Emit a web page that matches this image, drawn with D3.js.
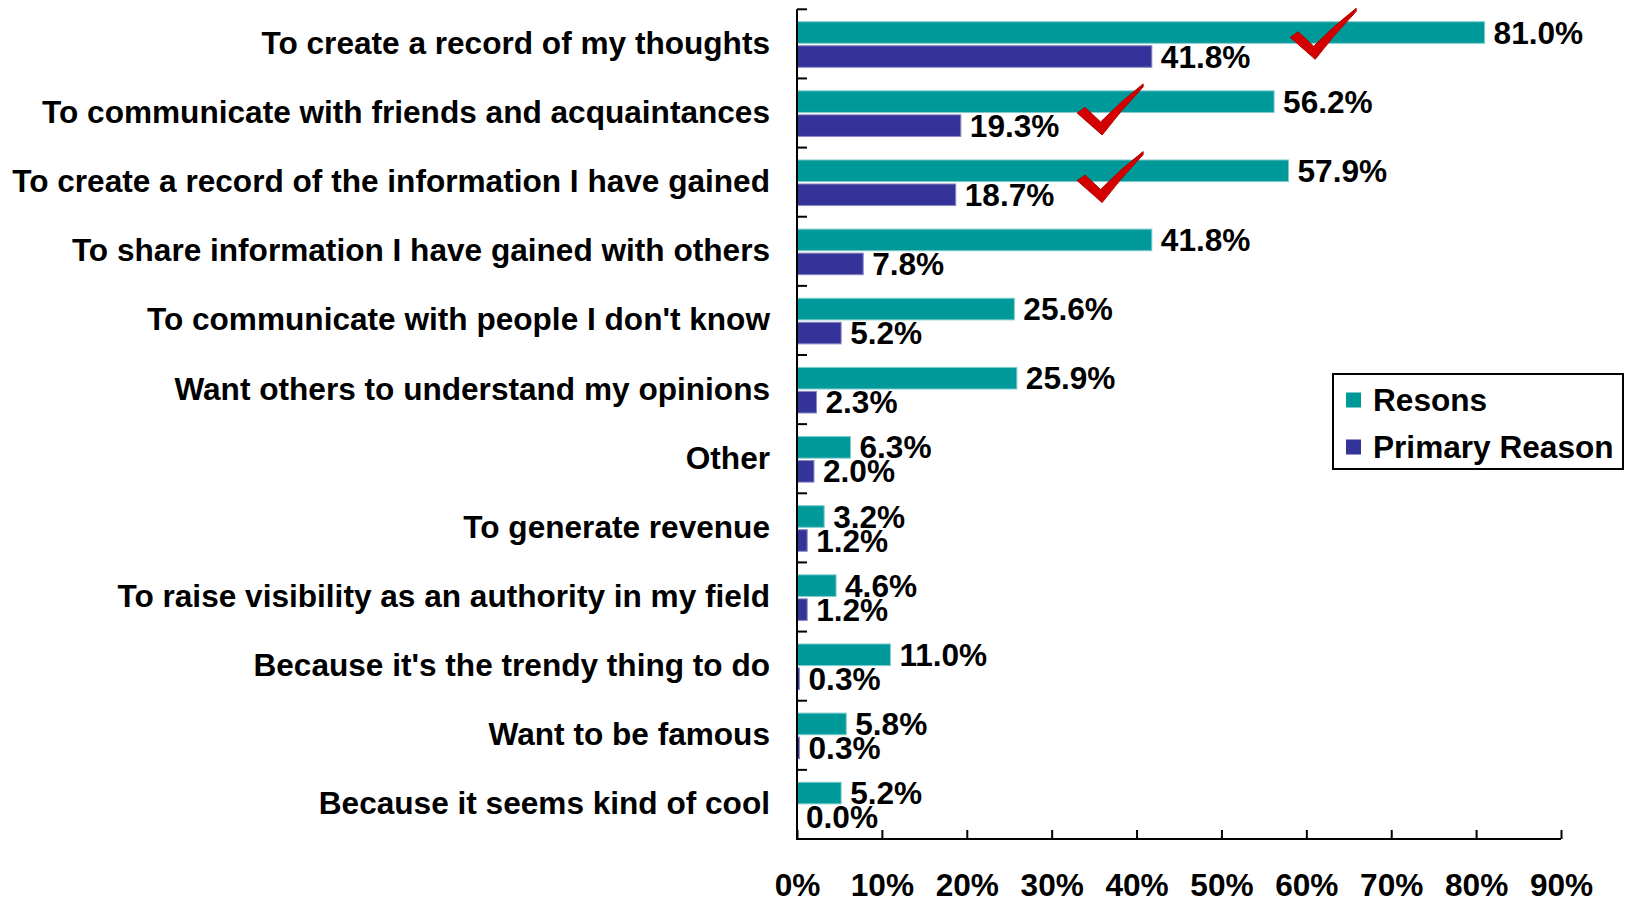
<!DOCTYPE html>
<html>
<head>
<meta charset="utf-8">
<script src="https://cdn.jsdelivr.net/npm/d3@7"></script>
<style>
  html, body { margin: 0; padding: 0; background: #ffffff; }
  svg { display: block; }
  text { font-family: "Liberation Sans", Arial, sans-serif; font-weight: bold; fill: #000; }
</style>
</head>
<body>
<svg id="chart" width="1625" height="901"></svg>
<script>
// Reasons for blogging: share of respondents naming each reason, and naming it as the primary one
const categories = [
  "To create a record of my thoughts",
  "To communicate with friends and acquaintances",
  "To create a record of the information I have gained",
  "To share information I have gained with others",
  "To communicate with people I don't know",
  "Want others to understand my opinions",
  "Other",
  "To generate revenue",
  "To raise visibility as an authority in my field",
  "Because it's the trendy thing to do",
  "Want to be famous",
  "Because it seems kind of cool"
];
const seriesNames = ["Resons", "Primary Reason"];
const reasons       = [81.0, 56.2, 57.9, 41.8, 25.6, 25.9, 6.3, 3.2, 4.6, 11.0, 5.8, 5.2];
const primaryReason = [41.8, 19.3, 18.7, 7.8, 5.2, 2.3, 2.0, 1.2, 1.2, 0.3, 0.3, 0.0];
const xTicks = [0, 10, 20, 30, 40, 50, 60, 70, 80, 90];

// Check marks highlighting the top three reasons (placed in value units along the axis)
const checkMarks = [
  { category: categories[0], at: 58.1, dy: -1 },
  { category: categories[1], at: 33.0, dy: 5.5 },
  { category: categories[2], at: 33.0, dy: 4 }
];

const colors = { "Resons": "#009999", "Primary Reason": "#333399" };
const edge   = { "Resons": "#7fcccc", "Primary Reason": "#8a8ac4" };

const svg = d3.select("#chart");
const fontSize = 31.6;

const x = d3.scaleLinear().domain([0, 90]).range([797, 1561]);
const y = d3.scaleBand().domain(categories).range([9.3, 839]);
const ySub = d3.scaleBand().domain(seriesNames).range([12.4, 58]).paddingInner(0.1);

const rows = categories.map((c, i) => ({ category: c, values: [
  { series: seriesNames[0], value: reasons[i] },
  { series: seriesNames[1], value: primaryReason[i] }
]}));

// Bars
const groups = svg.append("g").selectAll("g.row")
  .data(rows).join("g")
  .attr("class", "row")
  .attr("transform", d => `translate(0,${y(d.category)})`);

groups.selectAll("rect")
  .data(d => d.values).join("rect")
  .attr("x", x(0))
  .attr("y", d => ySub(d.series))
  .attr("width", d => x(d.value) - x(0))
  .attr("height", ySub.bandwidth())
  .attr("fill", d => colors[d.series])
  .attr("stroke", d => edge[d.series])
  .attr("stroke-width", 1);

// Value labels
groups.selectAll("text.val")
  .data(d => d.values).join("text")
  .attr("class", "val")
  .attr("x", d => x(d.value) + 9)
  .attr("y", d => ySub(d.series) + ySub.bandwidth() / 2)
  .attr("dy", "0.35em")
  .style("font-size", fontSize + "px")
  .text(d => d.value.toFixed(1) + "%");

// Category labels
svg.append("g").selectAll("text")
  .data(categories).join("text")
  .attr("x", 770)
  .attr("y", d => y(d) + y.bandwidth() / 2 - 1)
  .attr("dy", "0.35em")
  .attr("text-anchor", "end")
  .style("font-size", fontSize + "px")
  .text(d => d);

// Vertical axis with inward ticks at category boundaries
const yAxis = svg.append("g");
yAxis.append("line")
  .attr("x1", x(0)).attr("x2", x(0))
  .attr("y1", y.range()[0]).attr("y2", y.range()[1])
  .attr("stroke", "#000").attr("stroke-width", 2);
const boundaries = categories.map(c => y(c)).concat([y.range()[1]]);
yAxis.selectAll("line.tick")
  .data(boundaries).join("line")
  .attr("class", "tick")
  .attr("x1", x(0)).attr("x2", x(0) + 10)
  .attr("y1", d => d).attr("y2", d => d)
  .attr("stroke", "#000").attr("stroke-width", 2);

// Horizontal axis
const xAxis = d3.axisBottom(x)
  .tickValues(xTicks)
  .tickSize(-9)
  .tickPadding(35)
  .tickFormat(d => d + "%");
const xg = svg.append("g")
  .attr("transform", `translate(0,${y.range()[1]})`)
  .call(xAxis);
xg.select(".domain").attr("stroke", "#000").attr("stroke-width", 2)
  .attr("d", `M${x(0) - 1},0H${x(90)}`);
xg.selectAll(".tick line").attr("stroke", "#000").attr("stroke-width", 2);
xg.selectAll(".tick text")
  .style("font-size", fontSize + "px")
  .style("font-family", "'Liberation Sans', Arial, sans-serif")
  .style("font-weight", "bold")
  .attr("fill", "#000");

// Check marks
const checkPath = "M0,29 L8,23.5 L23.5,38 Q44,17 66,0 L66,3 Q44,26 25,51 Z";
svg.append("g").selectAll("path")
  .data(checkMarks).join("path")
  .attr("d", checkPath)
  .attr("transform", d => `translate(${x(d.at)},${y(d.category) + d.dy})`)
  .attr("fill", "#d40000")
  .attr("stroke", "#b00000")
  .attr("stroke-width", 1)
  .attr("stroke-linejoin", "round");

// Legend
const legend = svg.append("g").attr("transform", "translate(1333,374)");
legend.append("rect")
  .attr("width", 290).attr("height", 95)
  .attr("fill", "#fff").attr("stroke", "#000").attr("stroke-width", 2);
const items = legend.selectAll("g.item")
  .data(seriesNames).join("g")
  .attr("class", "item")
  .attr("transform", (d, i) => `translate(13,${26 + i * 47})`);
items.append("rect")
  .attr("y", -7.5).attr("width", 15).attr("height", 15)
  .attr("fill", d => colors[d]);
items.append("text")
  .attr("x", 27)
  .attr("dy", "0.35em")
  .style("font-size", fontSize + "px")
  .text(d => d);
</script>
</body>
</html>
